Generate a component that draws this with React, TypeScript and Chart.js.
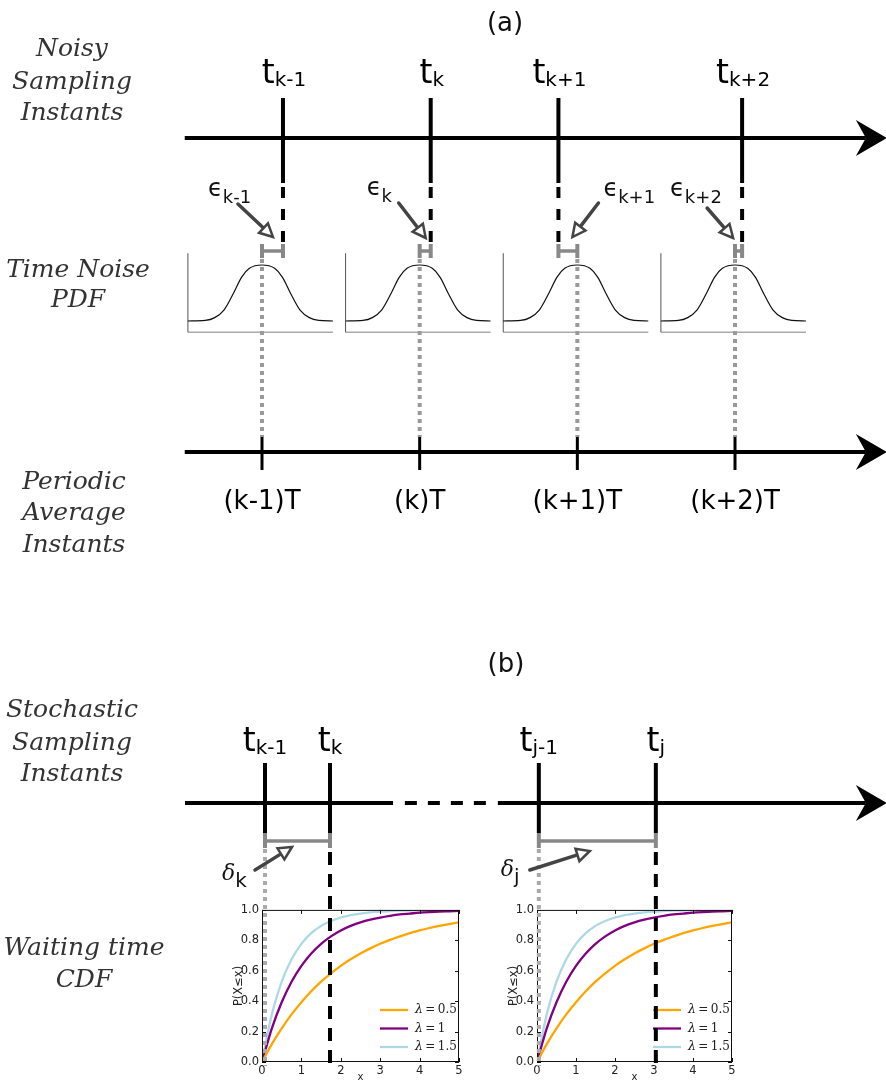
import React, { useEffect, useRef } from 'react';
import { Chart, registerables } from 'chart.js';

Chart.register(...registerables);

// ---------------- data ----------------
const panelTitles = ['(a)', '(b)'];
const rowTitles = [
  ['Noisy', 'Sampling', 'Instants'],
  ['Time Noise', 'PDF'],
  ['Periodic', 'Average', 'Instants'],
  ['Stochastic', 'Sampling', 'Instants'],
  ['Waiting time', 'CDF'],
];

// panel (a): instants in units of the period T
const periodicLabels = ['(k-1)T', '(k)T', '(k+1)T', '(k+2)T'];
const periodicInstants = [0, 1, 2, 3];
const noisySubscripts = ['k-1', 'k', 'k+1', 'k+2'];
const noisyInstants = [0.133, 1.07, 1.88, 3.045];

// time-noise pdf (offset from the periodic instant, in T; density normalised to peak 1)
const pdfOffsets = [-0.47, -0.36, -0.3, -0.24, -0.18, -0.13, -0.08, 0, 0.08, 0.13, 0.18, 0.24, 0.3, 0.36, 0.45];
const pdfDensity = [0, 0.01, 0.06, 0.2, 0.5, 0.78, 0.94, 1, 0.94, 0.78, 0.5, 0.2, 0.06, 0.01, 0];

// panel (b): stochastic instants (waiting-time units)
const stochasticSubscripts = ['k-1', 'k', 'j-1', 'j'];
const stochasticInstants = [0, 1.65, 6.95, 9.92];
const waitingSubscripts = ['k', 'j'];

// waiting-time CDFs
const cdfX = [0, 0.25, 0.5, 0.75, 1, 1.25, 1.5, 1.75, 2, 2.25, 2.5, 2.75, 3, 3.25, 3.5, 3.75, 4, 4.25, 4.5, 4.75, 5];
const cdfLambda05 = [0, 0.118, 0.221, 0.313, 0.393, 0.465, 0.528, 0.583, 0.632, 0.675, 0.713, 0.747, 0.777, 0.803, 0.826, 0.847, 0.865, 0.881, 0.895, 0.907, 0.918];
const cdfLambda1 = [0, 0.221, 0.393, 0.528, 0.632, 0.713, 0.777, 0.826, 0.865, 0.895, 0.918, 0.936, 0.95, 0.961, 0.97, 0.976, 0.982, 0.986, 0.989, 0.991, 0.993];
const cdfLambda15 = [0, 0.313, 0.528, 0.675, 0.777, 0.847, 0.895, 0.927, 0.95, 0.966, 0.976, 0.984, 0.989, 0.992, 0.995, 0.996, 0.998, 0.998, 0.999, 0.999, 0.999];
const cdfLambdaLabels = ['0.5', '1', '1.5'];
const cdfXTicks = [0, 1, 2, 3, 4, 5];
const cdfYTicks = [0, 0.2, 0.4, 0.6, 0.8, 1.0];

// ---------------- layout / style ----------------
const W = 886;
const H = 1083;
const SANS = '"DejaVu Sans", Verdana, sans-serif';
const SERIF = '"DejaVu Serif", Georgia, serif';
const CDF_COLORS = ['#FFA500', '#800080', '#ADD8E6'];

const A_ORIGIN_PX = 262;
const A_PX_PER_T = 157.67;
const B_ORIGIN_PX = 265;
const B_PX_PER_U = 39.4;
const PDF_BASE_PX = 321;
const PDF_PX_PER_UNIT = 56;

const A_AXIS = [-0.49, 3.83];
const B_AXIS_SOLID1 = [-2.03, 3.25];
const B_AXIS_DASH = [3.55, 5.63];
const B_AXIS_SOLID2 = [5.91, 15.25];
const A_TOP_Y = 138;
const A_BOT_Y = 452;
const B_Y = 803;
const PDF_BOX = [-0.47, 0.45];
const PDF_RANGE = [-0.2, 1.21];

const ROW_LAYOUT = [
  { cx: 72, base: [56, 89, 120] },
  { cx: 78, base: [277, 307] },
  { cx: 74, base: [489, 520, 552] },
  { cx: 72, base: [717, 750, 781] },
  { cx: 84, base: [955, 987] },
];
const EPS_ANNOT = [
  { labelDx: -75, base: 196, from: [-45, 204], to: [-10, 237] },
  { labelDx: -64, base: 195, from: [-32, 203], to: [-5, 238] },
  { labelDx: 45, base: 196, from: [40, 203], to: [14, 237] },
  { labelDx: -72, base: 196, from: [-35, 208], to: [-9, 238] },
];
const DELTA_ANNOT = [
  { idx: 0, labelDx: -43, base: 880, from: [-10, 870], to: [27, 847] },
  { idx: 2, labelDx: -38, base: 876, from: [-9, 870], to: [51, 851] },
];
const CDF_PANELS = [
  { plotLeft: 262, plotW: 197 },
  { plotLeft: 537, plotW: 195 },
];
const CDF_PLOT_TOP = 905;
const CDF_PLOT_H = 157;

// ---------------- helpers ----------------
function subText(ctx: CanvasRenderingContext2D, base: string, sub: string, x: number, baseline: number,
  baseFont: string, subFont: string, drop: number, align: 'center' | 'left', color: string) {
  ctx.font = baseFont;
  const w1 = ctx.measureText(base).width;
  ctx.font = subFont;
  const w2 = ctx.measureText(sub).width;
  const x0 = align === 'center' ? x - (w1 + w2) / 2 : x;
  ctx.fillStyle = color;
  ctx.textAlign = 'left';
  ctx.textBaseline = 'alphabetic';
  ctx.font = baseFont;
  ctx.fillText(base, x0, baseline);
  ctx.font = subFont;
  ctx.fillText(sub, x0 + w1, baseline + drop);
}

function stealth(ctx: CanvasRenderingContext2D, px: number, py: number) {
  ctx.beginPath();
  ctx.moveTo(px + 21, py);
  ctx.lineTo(px - 10, py - 18);
  ctx.lineTo(px, py);
  ctx.lineTo(px - 10, py + 18);
  ctx.closePath();
  ctx.fillStyle = '#000';
  ctx.fill();
}

function annArrow(ctx: CanvasRenderingContext2D, x1: number, y1: number, x2: number, y2: number) {
  const ang = Math.atan2(y2 - y1, x2 - x1);
  const c = Math.cos(ang), s = Math.sin(ang);
  const L = 13, hw = 6.5;
  const bx = x2 - L * c, by = y2 - L * s;
  ctx.strokeStyle = '#444';
  ctx.lineWidth = 3.5;
  ctx.lineCap = 'round';
  ctx.beginPath();
  ctx.moveTo(x1, y1);
  ctx.lineTo(bx, by);
  ctx.stroke();
  ctx.beginPath();
  ctx.moveTo(x2, y2);
  ctx.lineTo(bx - hw * s, by + hw * c);
  ctx.lineTo(bx + hw * s, by - hw * c);
  ctx.closePath();
  ctx.fillStyle = '#fff';
  ctx.fill();
  ctx.lineWidth = 2.5;
  ctx.lineJoin = 'miter';
  ctx.stroke();
}

// ---------------- overlay diagram ----------------
function buildOverlay() {
  const layers: any[] = [];
  const seg = (xAxisID: string, yAxisID: string, data: { x: number; y: number }[], color: string, width: number, dash: number[] = [], smooth = false) => {
    layers.push({
      data, xAxisID, yAxisID, borderColor: color, borderWidth: width, borderDash: dash,
      showLine: true, pointRadius: 0, fill: false, tension: smooth ? 0.4 : 0,
      cubicInterpolationMode: smooth ? 'monotone' : 'default',
    });
  };

  // PDF panels
  periodicInstants.forEach((p) => {
    seg('xa', 'ypdf', [{ x: p + PDF_BOX[0], y: PDF_RANGE[0] }, { x: p + PDF_BOX[1], y: PDF_RANGE[0] }], '#aaa', 1.5);
    seg('xa', 'ypdf', [{ x: p + PDF_BOX[0], y: PDF_RANGE[0] }, { x: p + PDF_BOX[0], y: PDF_RANGE[1] }], '#555', 1);
    seg('xa', 'ypdf', pdfOffsets.map((o, j) => ({ x: p + o, y: pdfDensity[j] })), '#111', 1.2, [], true);
  });

  // axes
  seg('xa', 'y', [{ x: A_AXIS[0], y: A_TOP_Y }, { x: A_AXIS[1], y: A_TOP_Y }], '#000', 4);
  seg('xa', 'y', [{ x: A_AXIS[0], y: A_BOT_Y }, { x: A_AXIS[1], y: A_BOT_Y }], '#000', 4);
  seg('xb', 'y', [{ x: B_AXIS_SOLID1[0], y: B_Y }, { x: B_AXIS_SOLID1[1], y: B_Y }], '#000', 4);
  seg('xb', 'y', [{ x: B_AXIS_DASH[0], y: B_Y }, { x: B_AXIS_DASH[1], y: B_Y }], '#000', 4, [12, 11]);
  seg('xb', 'y', [{ x: B_AXIS_SOLID2[0], y: B_Y }, { x: B_AXIS_SOLID2[1], y: B_Y }], '#000', 4);

  // noisy sampling instants
  noisyInstants.forEach((t) => {
    seg('xa', 'y', [{ x: t, y: 98 }, { x: t, y: 183 }], '#000', 4);
    seg('xa', 'y', [{ x: t, y: 187 }, { x: t, y: 246 }], '#000', 4, [11, 11]);
  });
  // periodic instants
  periodicInstants.forEach((p) => {
    seg('xa', 'y', [{ x: p, y: 437 }, { x: p, y: 470 }], '#000', 3);
  });
  // epsilon bars + dotted drops
  periodicInstants.forEach((p, i) => {
    const t = noisyInstants[i];
    seg('xa', 'y', [{ x: p, y: 259 }, { x: p, y: 437 }], '#9a9a9a', 4, [4, 4]);
    seg('xa', 'y', [{ x: p, y: 251 }, { x: t, y: 251 }], '#888', 3.5);
    seg('xa', 'y', [{ x: p, y: 244 }, { x: p, y: 258 }], '#888', 4);
    seg('xa', 'y', [{ x: t, y: 244 }, { x: t, y: 258 }], '#888', 4);
  });

  // stochastic instants
  stochasticInstants.forEach((t) => {
    seg('xb', 'y', [{ x: t, y: 763 }, { x: t, y: 833 }], '#000', 4);
  });
  [[0, 1], [2, 3]].forEach(([a, b]) => {
    const t0 = stochasticInstants[a], t1 = stochasticInstants[b];
    seg('xb', 'y', [{ x: t0, y: 849 }, { x: t0, y: 1066 }], '#aaa', 4, [4, 4]);
    seg('xb', 'y', [{ x: t1, y: 852 }, { x: t1, y: 1066 }], '#000', 4, [13, 9]);
    seg('xb', 'y', [{ x: t0, y: 841 }, { x: t1, y: 841 }], '#888', 3.5);
    seg('xb', 'y', [{ x: t0, y: 833 }, { x: t0, y: 848 }], '#888', 4);
    seg('xb', 'y', [{ x: t1, y: 833 }, { x: t1, y: 848 }], '#888', 4);
  });

  // first dataset is drawn on top in Chart.js
  const datasets = layers.reverse();

  const decor = {
    id: 'decor',
    afterDatasetsDraw(chart: any) {
      const ctx: CanvasRenderingContext2D = chart.ctx;
      const xa = chart.scales.xa;
      const xb = chart.scales.xb;
      ctx.save();
      // arrowheads
      stealth(ctx, xa.getPixelForValue(A_AXIS[1]), A_TOP_Y);
      stealth(ctx, xa.getPixelForValue(A_AXIS[1]), A_BOT_Y);
      stealth(ctx, xb.getPixelForValue(B_AXIS_SOLID2[1]), B_Y);

      // panel titles
      ctx.fillStyle = '#111';
      ctx.textAlign = 'center';
      ctx.textBaseline = 'alphabetic';
      ctx.font = `26px ${SANS}`;
      ctx.fillText(panelTitles[0], 505, 31);
      ctx.fillText(panelTitles[1], 506, 672);

      // row titles
      ctx.fillStyle = '#333';
      ctx.font = `italic 25px ${SERIF}`;
      rowTitles.forEach((lines, r) => {
        lines.forEach((line, k) => ctx.fillText(line, ROW_LAYOUT[r].cx, ROW_LAYOUT[r].base[k]));
      });

      // noisy instant labels
      noisyInstants.forEach((t, i) => {
        subText(ctx, 't', noisySubscripts[i], xa.getPixelForValue(t) + 1, 83, `33px ${SANS}`, `20px ${SANS}`, 3, 'center', '#000');
      });
      // periodic labels
      ctx.fillStyle = '#000';
      ctx.textAlign = 'center';
      ctx.font = `26px ${SANS}`;
      periodicInstants.forEach((p, i) => ctx.fillText(periodicLabels[i], xa.getPixelForValue(p), 509));

      // epsilon annotations
      noisyInstants.forEach((t, i) => {
        const px = xa.getPixelForValue(t);
        const a = EPS_ANNOT[i];
        subText(ctx, '\u03F5', noisySubscripts[i], px + a.labelDx, a.base, `24px ${SANS}`, `18px ${SANS}`, 7, 'left', '#111');
        annArrow(ctx, px + a.from[0], a.from[1], px + a.to[0], a.to[1]);
      });

      // stochastic instant labels
      stochasticInstants.forEach((t, i) => {
        subText(ctx, 't', stochasticSubscripts[i], xb.getPixelForValue(t), 751, `33px ${SANS}`, `20px ${SANS}`, 3, 'center', '#000');
      });

      // delta annotations
      DELTA_ANNOT.forEach((a, i) => {
        const px = xb.getPixelForValue(stochasticInstants[a.idx]);
        subText(ctx, '\u03B4', waitingSubscripts[i], px + a.labelDx, a.base, `italic 22px ${SERIF}`, `20px ${SANS}`, 7, 'left', '#111');
        annArrow(ctx, px + a.from[0], a.from[1], px + a.to[0], a.to[1]);
      });
      ctx.restore();
    },
  };

  const pdfMin = -(H - PDF_BASE_PX) / PDF_PX_PER_UNIT;
  const pdfMax = PDF_BASE_PX / PDF_PX_PER_UNIT;

  return {
    type: 'scatter',
    data: { datasets },
    options: {
      responsive: false,
      animation: false,
      events: [],
      layout: { padding: 0 },
      plugins: { legend: { display: false }, tooltip: { enabled: false } },
      scales: {
        xa: { type: 'linear', axis: 'x', display: false, min: -A_ORIGIN_PX / A_PX_PER_T, max: (W - A_ORIGIN_PX) / A_PX_PER_T },
        xb: { type: 'linear', axis: 'x', display: false, min: -B_ORIGIN_PX / B_PX_PER_U, max: (W - B_ORIGIN_PX) / B_PX_PER_U },
        y: { type: 'linear', axis: 'y', display: false, min: 0, max: H, reverse: true },
        ypdf: { type: 'linear', axis: 'y', display: false, min: pdfMin, max: pdfMax },
      },
    },
    plugins: [decor],
  } as any;
}

// ---------------- CDF charts ----------------
const cdfFrame = {
  id: 'cdfFrame',
  afterDatasetsDraw(chart: any) {
    const { ctx, chartArea: a, scales } = chart;
    ctx.save();
    ctx.strokeStyle = '#111';
    ctx.lineWidth = 1;
    ctx.strokeRect(a.left + 0.5, a.top + 0.5, a.right - a.left - 1, a.bottom - a.top - 1);
    ctx.beginPath();
    cdfXTicks.forEach((v) => {
      const px = Math.round(scales.x.getPixelForValue(v)) + 0.5;
      ctx.moveTo(px, a.bottom); ctx.lineTo(px, a.bottom - 4);
      ctx.moveTo(px, a.top); ctx.lineTo(px, a.top + 4);
    });
    cdfYTicks.forEach((v) => {
      const py = Math.round(scales.y.getPixelForValue(v)) + 0.5;
      ctx.moveTo(a.left, py); ctx.lineTo(a.left + 4, py);
      ctx.moveTo(a.right, py); ctx.lineTo(a.right - 4, py);
    });
    ctx.stroke();

    // legend (inside, lower right)
    chart.data.datasets.forEach((d: any, i: number) => {
      const yc = a.bottom - 52 + i * 18.5;
      const x0 = a.right - 79;
      ctx.strokeStyle = d.borderColor;
      ctx.lineWidth = 2.3;
      ctx.beginPath();
      ctx.moveTo(x0, yc);
      ctx.lineTo(x0 + 28, yc);
      ctx.stroke();
      ctx.fillStyle = '#222';
      ctx.textAlign = 'left';
      ctx.textBaseline = 'middle';
      ctx.font = `italic 12.5px ${SERIF}`;
      ctx.fillText('\u03BB', x0 + 35, yc);
      const w = ctx.measureText('\u03BB').width;
      ctx.font = `12px ${SERIF}`;
      ctx.fillText('\u2009=\u2009' + d.label, x0 + 35 + w, yc);
    });
    ctx.restore();
  },
};

function buildCdf() {
  const series = [cdfLambda05, cdfLambda1, cdfLambda15];
  return {
    type: 'line',
    data: {
      datasets: series.map((s, i) => ({
        label: cdfLambdaLabels[i],
        data: cdfX.map((x, j) => ({ x, y: s[j] })),
        borderColor: CDF_COLORS[i],
        borderWidth: 2.3,
        pointRadius: 0,
        fill: false,
        cubicInterpolationMode: 'monotone',
      })),
    },
    options: {
      responsive: false,
      animation: false,
      events: [],
      layout: { padding: { left: 12, top: 5, right: 10, bottom: 0 } },
      plugins: { legend: { display: false }, tooltip: { enabled: false } },
      scales: {
        x: {
          type: 'linear', min: 0, max: 5,
          afterBuildTicks: (s: any) => { s.ticks = cdfXTicks.map((v) => ({ value: v })); },
          ticks: { font: { family: SANS, size: 11.5 }, color: '#222', padding: 2, maxRotation: 0, autoSkip: false },
          grid: { display: false, drawTicks: false },
          border: { display: false },
          title: { display: true, text: 'x', font: { family: SANS, size: 10 }, color: '#222', padding: 0 },
          afterFit: (s: any) => { s.height = 21; },
        },
        y: {
          type: 'linear', min: 0, max: 1,
          afterBuildTicks: (s: any) => { s.ticks = cdfYTicks.map((v) => ({ value: v })); },
          ticks: { font: { family: SANS, size: 11.5 }, color: '#222', padding: 3, callback: (v: any) => Number(v).toFixed(1) },
          grid: { display: false, drawTicks: false },
          border: { display: false },
          title: { display: true, text: 'P(X\u2264x)', font: { family: SANS, size: 11.5 }, color: '#222', padding: 0 },
          afterFit: (s: any) => { s.width = 30; },
        },
      },
    },
    plugins: [cdfFrame],
  } as any;
}

export default function App() {
  const overlayRef = useRef<HTMLCanvasElement>(null);
  const cdfRefs = [useRef<HTMLCanvasElement>(null), useRef<HTMLCanvasElement>(null)];

  useEffect(() => {
    const charts: Chart[] = [];
    cdfRefs.forEach((r) => {
      if (r.current) charts.push(new Chart(r.current, buildCdf()));
    });
    if (overlayRef.current) charts.push(new Chart(overlayRef.current, buildOverlay()));
    return () => charts.forEach((c) => c.destroy());
  }, []);

  return (
    <div style={{ position: 'fixed', left: 0, top: 0, width: W, height: H, background: '#fff', overflow: 'hidden' }}>
      {CDF_PANELS.map((p, i) => (
        <canvas
          key={i}
          ref={cdfRefs[i]}
          width={42 + p.plotW + 10}
          height={5 + CDF_PLOT_H + 21}
          style={{ position: 'absolute', left: p.plotLeft - 42, top: CDF_PLOT_TOP - 5, zIndex: 1 }}
        />
      ))}
      <canvas
        ref={overlayRef}
        width={W}
        height={H}
        style={{ position: 'absolute', left: 0, top: 0, zIndex: 2, pointerEvents: 'none' }}
      />
    </div>
  );
}
